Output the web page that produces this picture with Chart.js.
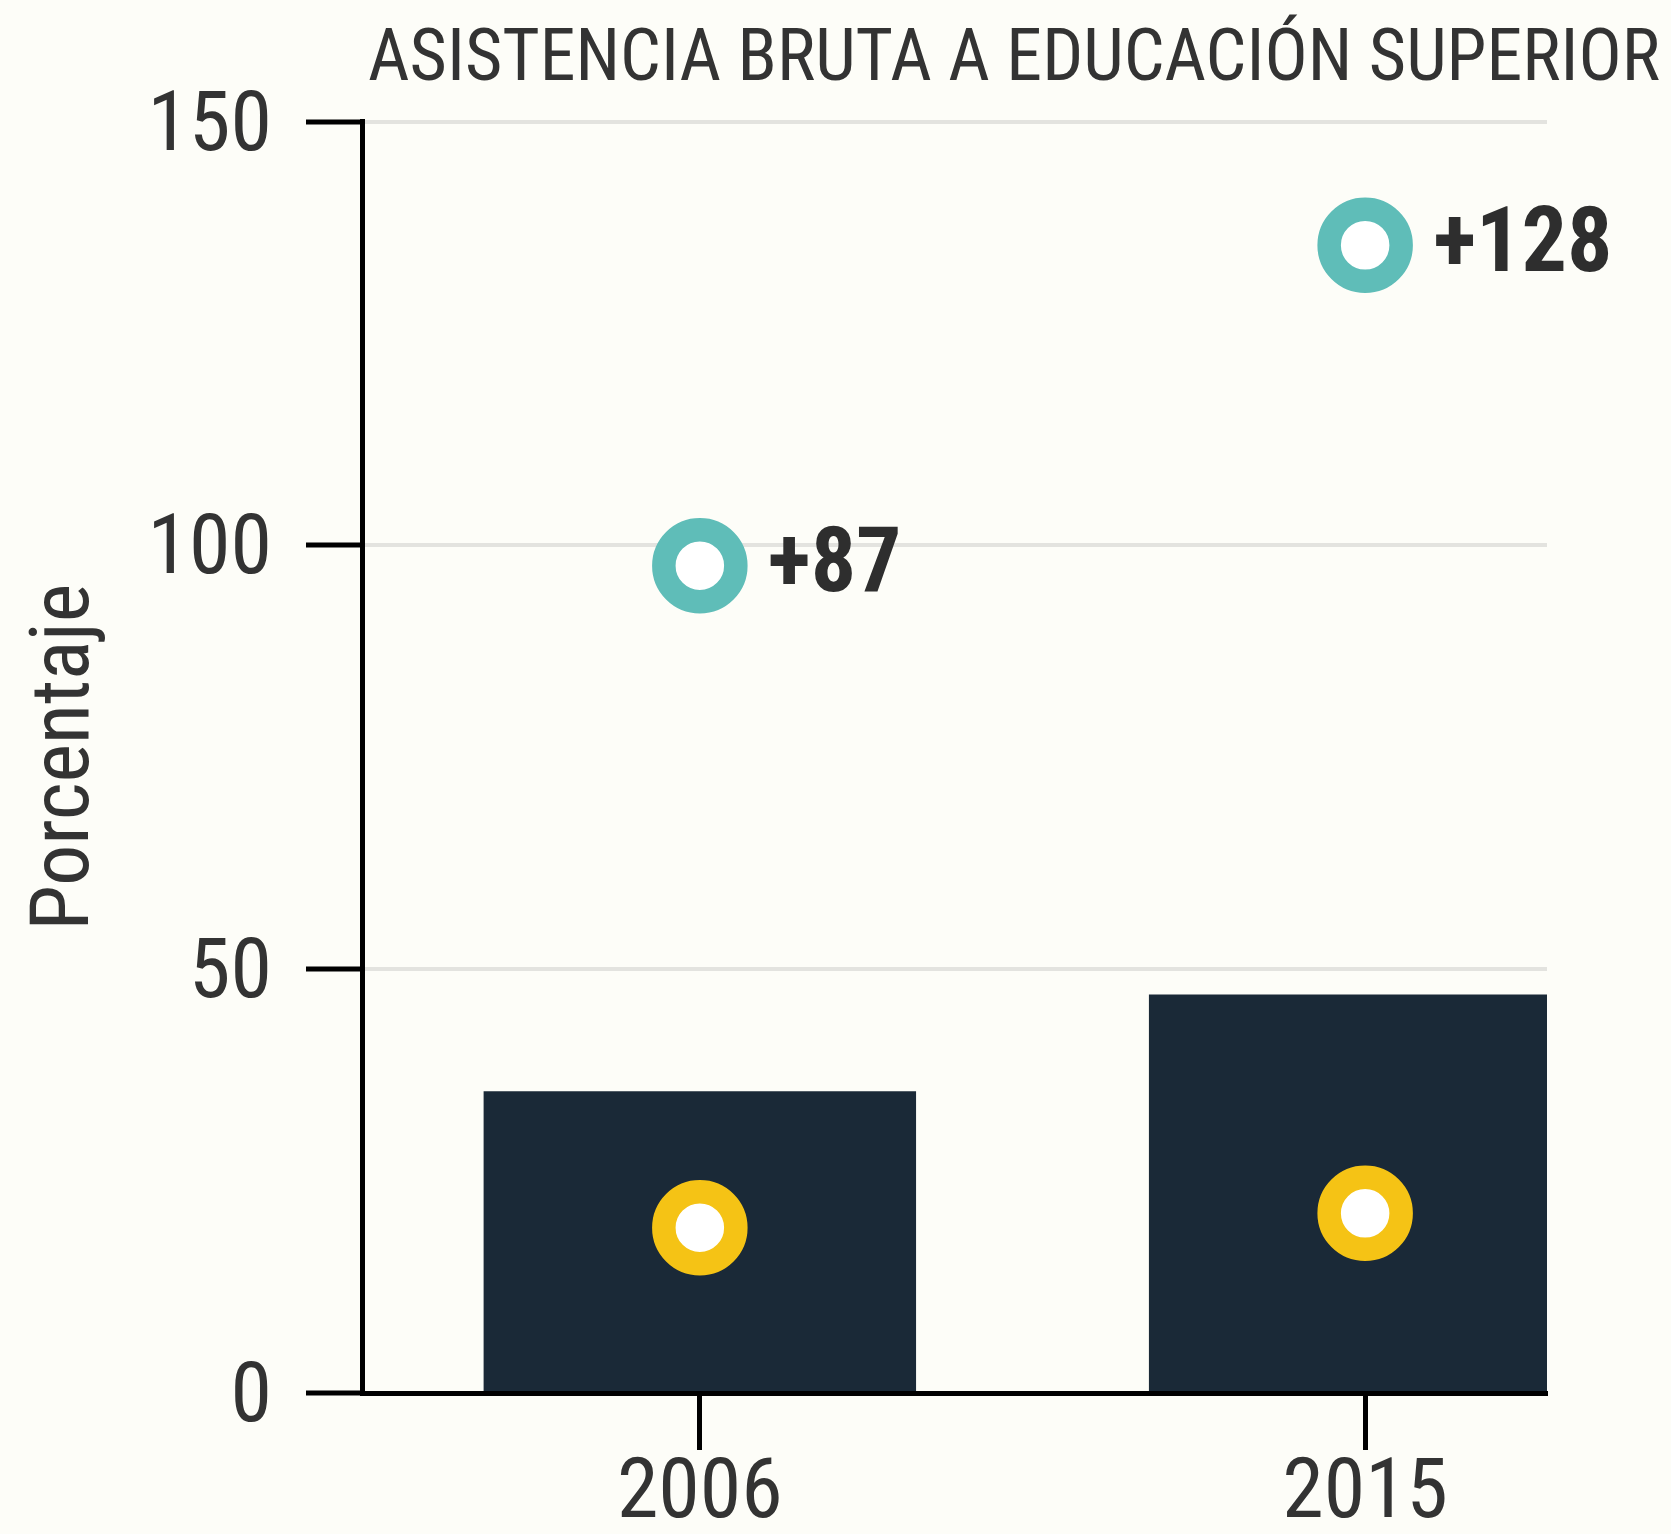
<!DOCTYPE html>
<html>
<head>
<meta charset="utf-8">
<script src="https://cdn.jsdelivr.net/npm/chart.js@4"></script>
<style>
html,body{margin:0;padding:0;background:#fdfdf8;}
#wrap{width:1671px;height:1534px;}
</style>
</head>
<body>
<div id="wrap"><canvas id="c" width="1671" height="1534"></canvas></div>
<script>
// ---- data ----
const years = [2006, 2015];
const barValues = [35.6, 47.0];
const tealValues = [97.6, 135.4];
const yellowValues = [19.5, 21.2];
const tealLabels = ['+87', '+128'];
const yTicks = [0, 50, 100, 150];
const titleText = 'ASISTENCIA BRUTA A EDUCACIÓN SUPERIOR';
const yTitleText = 'Porcentaje';

const FF = "'Roboto Condensed', 'Liberation Sans Narrow', Roboto, sans-serif";
const BG = '#fdfdf8';

const bgPlugin = {
  id: 'bg',
  beforeDraw(chart) {
    const ctx = chart.ctx;
    ctx.save();
    ctx.fillStyle = BG;
    ctx.fillRect(0, 0, chart.width, chart.height);
    ctx.restore();
  }
};

const labelPlugin = {
  id: 'pointLabels',
  afterDatasetsDraw(chart) {
    const meta = chart.getDatasetMeta(0);
    const ctx = chart.ctx;
    ctx.save();
    ctx.font = 'bold 90px ' + FF;
    ctx.fillStyle = '#2e2e2e';
    ctx.textAlign = 'left';
    ctx.textBaseline = 'middle';
    meta.data.forEach((pt, i) => {
      ctx.fillText(tealLabels[i], pt.x + 68, pt.y + 3);
    });
    ctx.restore();
  }
};

const toXY = vals => years.map((y, i) => ({x: y, y: vals[i]}));

new Chart(document.getElementById('c'), {
  type: 'bar',
  data: {
    datasets: [
      {
        type: 'scatter',
        label: 'teal',
        data: toXY(tealValues),
        pointRadius: 36,
        pointHoverRadius: 36,
        borderWidth: 23.5,
        pointBorderWidth: 23.5,
        pointBackgroundColor: '#ffffff',
        pointBorderColor: '#5fbdb8',
        backgroundColor: '#ffffff',
        borderColor: '#5fbdb8',
        order: 1
      },
      {
        type: 'scatter',
        label: 'yellow',
        data: toXY(yellowValues),
        pointRadius: 36,
        pointHoverRadius: 36,
        borderWidth: 23.5,
        pointBorderWidth: 23.5,
        pointBackgroundColor: '#ffffff',
        pointBorderColor: '#f5c315',
        backgroundColor: '#ffffff',
        borderColor: '#f5c315',
        order: 1
      },
      {
        type: 'bar',
        label: 'bar',
        data: toXY(barValues),
        backgroundColor: '#1a2937',
        borderWidth: 0,
        categoryPercentage: 1,
        barPercentage: 0.65,
        clip: 0,
        order: 2
      }
    ]
  },
  options: {
    responsive: false,
    animation: false,
    events: [],
    layout: {padding: {top: 0, left: 0, right: 11, bottom: 0}},
    plugins: {
      legend: {display: false},
      tooltip: {enabled: false},
      title: {
        display: true,
        text: titleText,
        align: 'end',
        color: '#333333',
        font: {family: FF, size: 72, weight: 'normal', lineHeight: 1.2},
        padding: {top: 18.5, bottom: 16.6}
      }
    },
    scales: {
      x: {
        type: 'linear',
        position: 'bottom',
        offset: false,
        min: 2001.43,
        max: 2017.46,
        z: 1,
        afterBuildTicks: s => { s.ticks = years.map(v => ({value: v})); },
        afterFit: s => { s.height = 141; },
        ticks: {
          callback: v => String(v),
          color: '#333333',
          font: {family: FF, size: 84, lineHeight: 1},
          padding: 4,
          maxRotation: 0,
          autoSkip: false
        },
        grid: {
          display: true,
          offset: false,
          drawOnChartArea: false,
          drawTicks: true,
          tickLength: 57,
          tickColor: '#000000',
          tickWidth: 5
        },
        border: {display: true, color: '#000000', width: 5}
      },
      y: {
        type: 'linear',
        position: 'left',
        min: 0,
        max: 150,
        afterBuildTicks: s => { s.ticks = yTicks.map(v => ({value: v})); },
        afterFit: s => { s.width = 362; },
        ticks: {
          callback: v => String(v),
          color: '#333333',
          font: {family: FF, size: 84, lineHeight: 1.2},
          padding: 34,
          labelOffset: 7
        },
        grid: {
          color: '#e3e3df',
          lineWidth: 4,
          drawTicks: true,
          tickLength: 56,
          tickColor: '#000000',
          tickWidth: 5
        },
        border: {display: true, color: '#000000', width: 5},
        title: {
          display: true,
          text: yTitleText,
          color: '#333333',
          font: {family: FF, size: 82, weight: 'normal', lineHeight: 1.2},
          padding: {top: 18, bottom: 0}
        }
      },
      yR: {
        type: 'linear',
        position: 'right',
        display: true,
        afterFit: s => { s.width = 113; },
        ticks: {display: false},
        grid: {display: false},
        border: {display: false}
      }
    }
  },
  plugins: [bgPlugin, labelPlugin]
});
</script>
</body>
</html>
